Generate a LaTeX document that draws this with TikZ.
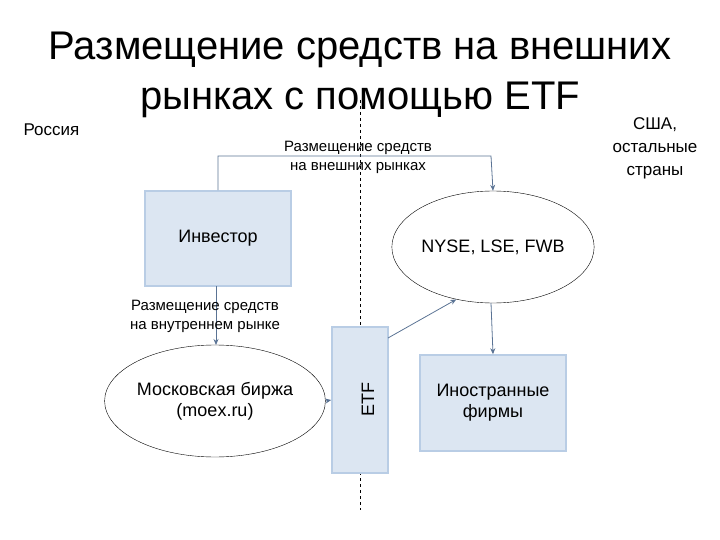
\documentclass[tikz,border=0pt]{standalone}
\usepackage{fontspec}
\setmainfont{Liberation Sans}
\usetikzlibrary{shapes.geometric,arrows.meta}
\definecolor{boxfill}{HTML}{DCE6F2}
\definecolor{boxline}{HTML}{B9CDE5}
\definecolor{arr}{HTML}{5A7394}
\begin{document}
\begin{tikzpicture}[x=1pt,y=-1pt,
  bx/.style={draw=boxline,fill=boxfill,line width=1.5pt,inner sep=0pt,font=\fontsize{18}{21}\selectfont,align=center},
  ell/.style={draw,ellipse,thin,inner sep=0pt,font=\fontsize{18}{21}\selectfont,align=center},
  con/.style={draw=arr,line width=0.8pt,-{Stealth[length=6pt,width=5pt]}},
  lab/.style={font=\fontsize{15}{19}\selectfont,align=center,inner sep=1pt}]
\useasboundingbox (0,0) rectangle (720,540);
\node[font=\fontsize{40}{50}\selectfont,align=center] (title) at (360,75) {Размещение средств на внешних\\рынках с помощью ETF};
\node[font=\fontsize{17}{20}\selectfont,anchor=west] (ru) at (20,130) {Россия};
\node[font=\fontsize{17}{23}\selectfont,align=center] (us) at (655,148) {США,\\остальные\\страны};
\draw[dashed,thin] (360,100) coordinate (d1) -- (360,510) coordinate (d2);
\node[bx,minimum width=146pt,minimum height=95pt] (inv) at (218,238.5) {Инвестор};
\node[ell,minimum width=188pt,minimum height=112pt] (ny) at (493,247) {NYSE, LSE, FWB};
\node[ell,minimum width=187pt,minimum height=112pt] (mo) at (215,401) {Московская биржа\\(moex.ru)};
\node[bx,minimum width=56pt,minimum height=146pt] (etf) at (360,400) {};
\node[font=\fontsize{18}{21}\selectfont,rotate=90] (etft) at (368,400) {ETF};
\node[bx,minimum width=146pt,minimum height=96pt] (fo) at (493,403) {Иностранные\\фирмы};
\coordinate (c1) at (218,156);
\coordinate (c2) at (491,156);
\draw[con] (inv.north) -- (c1) -- (c2) -- (ny.north);
\node[lab] (l1) at (358,157) {Размещение средств\\на внешних рынках};
\draw[con] (216,286) -- (216,345);
\node[lab] (l2) at (205,316) {Размещение средств\\на внутреннем рынке};
\draw[con] (mo.east) -- (etf.west);
\draw[con] (388,338) -- (ny.-125);
\draw[con] (491,303) -- (fo.north);
\end{tikzpicture}
\end{document}
